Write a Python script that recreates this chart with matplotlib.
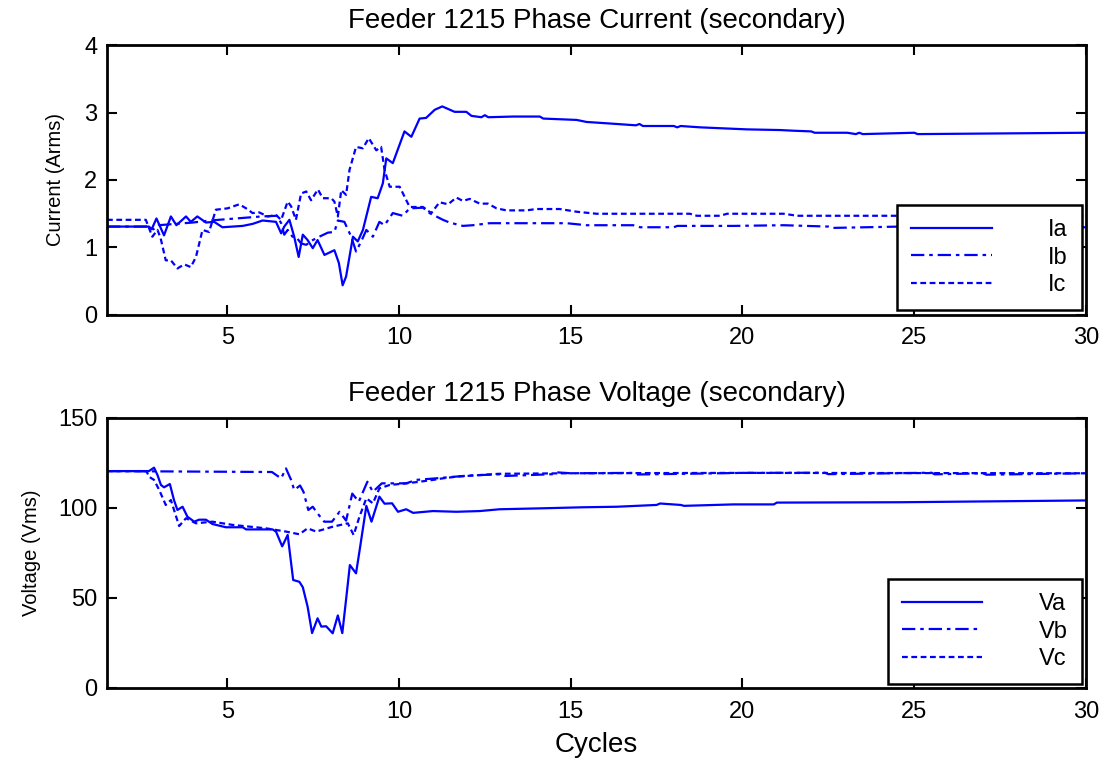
import matplotlib
matplotlib.use("Agg")
import matplotlib.pyplot as plt

plt.rcParams['font.family'] = ['Liberation Sans', 'DejaVu Sans']

# ---------------- data ----------------
# Phase currents (A rms)
ia_t = [1.5, 2.72, 2.80, 2.94, 3.16, 3.36, 3.52, 3.80, 3.94, 4.13, 4.38, 4.62, 4.86, 5.45, 5.74,
        6.03, 6.42, 6.57, 6.66, 6.81, 6.95, 7.08, 7.20, 7.34, 7.49, 7.63, 7.83, 8.12, 8.25, 8.36,
        8.46, 8.66, 8.80, 8.95, 9.19, 9.38, 9.53, 9.63, 9.82, 10.16, 10.36, 10.60, 10.79, 11.04,
        11.26, 11.62, 11.96, 12.11, 12.4, 12.5, 12.6, 13.32, 14.10, 14.20, 15.17, 15.46, 16.05,
        16.9, 17.0, 17.1, 18.0, 18.1, 18.2, 18.77, 20.13, 21.10, 21.49, 22.0, 22.1, 23.05, 23.3,
        23.4, 23.5, 25.0, 25.1, 30.0]
ia_v = [1.31, 1.31, 1.27, 1.43, 1.18, 1.46, 1.33, 1.46, 1.38, 1.46, 1.37, 1.38, 1.30, 1.32, 1.35,
        1.40, 1.38, 1.21, 1.31, 1.41, 1.16, 0.86, 1.19, 1.11, 0.99, 1.11, 0.89, 0.96, 0.77, 0.44,
        0.57, 1.16, 1.09, 1.26, 1.75, 1.73, 1.95, 2.32, 2.25, 2.72, 2.64, 2.91, 2.92, 3.04,
        3.09, 3.01, 3.01, 2.95, 2.93, 2.96, 2.93, 2.94, 2.94, 2.91, 2.89, 2.86, 2.84,
        2.81, 2.83, 2.80, 2.80, 2.78, 2.80, 2.78, 2.75, 2.74, 2.73, 2.72, 2.70, 2.70, 2.68,
        2.70, 2.68, 2.70, 2.68, 2.70]

ib_t = [1.5, 2.72, 2.85, 3.0, 3.5, 4.0, 4.5, 5.0, 5.5, 6.0, 6.45, 6.57, 6.66, 6.76, 6.9, 7.0,
        7.15, 7.30, 7.49, 7.68, 7.93, 8.12, 8.22, 8.41, 8.61, 8.75, 8.90, 9.05, 9.24, 9.43, 9.58,
        9.82, 10.11, 10.31, 10.70, 10.89, 11.28, 11.47, 11.86, 12.15, 12.64, 14.88, 15.46, 16.82,
        17.02, 18.0, 18.1, 19.74, 21.2, 22.5, 22.6, 24.6, 26.0, 26.1, 28.0, 28.1, 30.0]
ib_v = [1.31, 1.31, 1.27, 1.33, 1.35, 1.37, 1.40, 1.42, 1.44, 1.46, 1.47, 1.36, 1.19, 1.26, 1.16,
        1.16, 1.06, 1.04, 1.11, 1.16, 1.22, 1.23, 1.40, 1.38, 1.16, 0.94, 1.09, 1.26, 1.16, 1.38,
        1.33, 1.51, 1.47, 1.58, 1.59, 1.51, 1.41, 1.37, 1.32, 1.33, 1.36, 1.36, 1.33, 1.33,
        1.30, 1.30, 1.32, 1.32, 1.33, 1.31, 1.29, 1.31, 1.30, 1.28, 1.30, 1.28, 1.30]

ic_t = [1.5, 2.63, 2.82, 2.97, 3.06, 3.21, 3.36, 3.55, 3.75, 3.94, 4.09, 4.28, 4.47, 4.67, 5.01,
        5.35, 5.55, 5.74, 5.93, 6.18, 6.42, 6.57, 6.76, 6.86, 7.00, 7.15, 7.30, 7.44, 7.64, 7.78,
        8.03, 8.12, 8.22, 8.32, 8.46, 8.56, 8.75, 8.95, 9.12, 9.34, 9.48, 9.58, 9.73, 10.02,
        10.31, 10.70, 10.94, 11.18, 11.43, 11.67, 11.86, 12.06, 12.35, 12.59, 12.84, 13.13,
        13.71, 14.00, 14.68, 15.17, 15.75, 18.47, 18.67, 19.35, 19.55, 21.20, 21.59, 30.0]
ic_v = [1.41, 1.41, 1.16, 1.26, 1.14, 0.81, 0.81, 0.69, 0.75, 0.71, 0.86, 1.26, 1.23, 1.56, 1.58,
        1.64, 1.58, 1.51, 1.52, 1.46, 1.48, 1.41, 1.68, 1.61, 1.41, 1.80, 1.83, 1.70, 1.86, 1.73,
        1.73, 1.68, 1.46, 1.85, 1.78, 2.15, 2.49, 2.47, 2.62, 2.44, 2.49, 2.15, 1.90, 1.90,
        1.60, 1.60, 1.51, 1.67, 1.64, 1.74, 1.69, 1.72, 1.65, 1.65, 1.58, 1.55,
        1.55, 1.57, 1.57, 1.53, 1.50, 1.50, 1.47, 1.47, 1.50, 1.50, 1.47, 1.47]

# Phase voltages (V rms)
va_t = [1.5, 2.72, 2.87, 2.97, 3.07, 3.16, 3.33, 3.45, 3.55, 3.70, 3.84, 4.04, 4.18, 4.38, 4.57,
        4.96, 5.45, 5.55, 6.32, 6.42, 6.60, 6.76, 6.92, 7.10, 7.20, 7.34, 7.47, 7.63, 7.74, 7.88,
        8.07, 8.22, 8.35, 8.48, 8.57, 8.75, 8.87, 9.05, 9.20, 9.43, 9.58, 9.80, 9.97, 10.21,
        10.41, 10.99, 11.67, 12.35, 12.93, 14.1, 15.36, 16.34, 17.5, 17.6, 18.2, 18.3, 19.74,
        20.91, 21.0, 24.6, 30.0]
va_v = [120.5, 120.5, 122.4, 118.3, 112.8, 111.5, 113.3, 104.4, 98.9, 100.7, 95.2, 92.4, 93.5,
        93.5, 91.1, 89.3, 89.3, 88.1, 88.1, 86.9, 78.7, 85.0, 60.0, 59.0, 56.0, 45.2, 30.5,
        38.7, 34.1, 34.3, 30.4, 40.3, 30.5, 52.6, 68.3, 63.7, 78.5, 101.2, 92.4, 106.3, 102.4,
        102.6, 97.9, 99.3, 97.3, 98.3, 97.9, 98.3, 99.3, 99.8, 100.4, 100.7, 101.7, 102.5,
        101.7, 101.2, 102.0, 102.0, 103.0, 103.2, 104.2]

vb_t = [1.5, 6.3, 6.45, 6.57, 6.71, 6.86, 6.95, 7.12, 7.22, 7.36, 7.49, 7.63, 7.82, 8.05, 8.27,
        8.46, 8.64, 8.83, 9.08, 9.24, 9.50, 9.82, 10.21, 10.50, 11.09, 12.0, 13.0, 13.1, 14.5,
        14.6, 15.0, 16.8, 16.9, 20.0, 22.4, 22.5, 25.5, 25.6, 27.0, 27.1, 30.0]
vb_v = [120.5, 120.0, 118.0, 116.5, 122.0, 115.6, 110.0, 112.5, 109.0, 98.9, 100.7, 97.0, 92.4,
        92.4, 97.9, 93.0, 108.0, 103.5, 114.6, 109.0, 113.7, 113.7, 113.7, 115.6, 116.5, 118.0,
        118.8, 117.8, 118.8, 119.8, 119.3, 119.5, 118.6, 119.5, 119.6, 118.8, 119.6, 118.7,
        119.3, 118.5, 119.3]

vc_t = [1.5, 2.65, 2.72, 2.87, 3.02, 3.21, 3.36, 3.60, 3.80, 4.09, 4.57, 5.16, 6.13, 6.71,
        7.10, 7.34, 7.59, 8.07, 8.51, 8.68, 8.85, 9.05, 9.24, 9.43, 9.73, 10.21, 10.60, 10.99,
        11.28, 11.67, 12.9, 15.0, 20.0, 30.0]
vc_v = [120.5, 120.5, 117.4, 115.6, 110.0, 101.7, 104.4, 90.0, 94.3, 91.5, 92.4, 90.6, 88.7,
        86.9, 85.4, 88.7, 86.9, 89.6, 91.5, 85.0, 95.2, 105.4, 102.6, 110.9, 112.8, 113.7,
        114.6, 115.6, 116.5, 117.4, 119.0, 119.3, 119.5, 119.3]

x_ticks = [5, 10, 15, 20, 25, 30]
i_ticks = [0, 1, 2, 3, 4]
v_ticks = [0, 50, 100, 150]

# ---------------- drawing ----------------
BLUE = (0, 0, 1)
LW = 1.6
DASHDOT = (0, (6, 2.2, 1.6, 2.2))
DOTTED = (0, (2.6, 1.6))

fig = plt.figure(figsize=(11.09, 7.61), dpi=100)
ax1 = fig.add_axes([107 / 1109, 1 - 315 / 761, 979 / 1109, 270 / 761])
ax2 = fig.add_axes([107 / 1109, 1 - 688 / 761, 979 / 1109, 270 / 761])

ax1.plot(ia_t, ia_v, color=BLUE, lw=LW, ls='-', label='Ia')
ax1.plot(ib_t, ib_v, color=BLUE, lw=LW, ls=DASHDOT, label='Ib')
ax1.plot(ic_t, ic_v, color=BLUE, lw=LW, ls=DOTTED, label='Ic')

ax2.plot(va_t, va_v, color=BLUE, lw=LW, ls='-', label='Va')
ax2.plot(vb_t, vb_v, color=BLUE, lw=LW, ls=DASHDOT, label='Vb')
ax2.plot(vc_t, vc_v, color=BLUE, lw=LW, ls=DOTTED, label='Vc')

TICK_FS = 17
TITLE_FS = 20
for ax, yt, ylim in ((ax1, i_ticks, (0, 4)), (ax2, v_ticks, (0, 150))):
    ax.set_xlim(1.5, 30)
    ax.set_ylim(*ylim)
    ax.set_xticks(x_ticks)
    ax.set_yticks(yt)
    ax.tick_params(direction='in', length=7, width=1.5, top=True, right=True,
                   labelsize=TICK_FS)
    ax.tick_params(axis='x', pad=9)
    ax.tick_params(axis='y', pad=7)
    for s in ax.spines.values():
        s.set_linewidth(2.0)

ax1.set_title('Feeder 1215 Phase Current (secondary)', fontsize=TITLE_FS, pad=12)
ax2.set_title('Feeder 1215 Phase Voltage (secondary)', fontsize=TITLE_FS, pad=12)
ax1.set_ylabel('Current (Arms)', fontsize=14.5, labelpad=14)
ax2.set_ylabel('Voltage (Vms)', fontsize=14.5, labelpad=12)
ax2.set_xlabel('Cycles', fontsize=TITLE_FS, labelpad=7)

for ax, anchor in ((ax1, (0.996, 0.0185)), (ax2, (0.996, 0.015))):
    leg = ax.legend(loc='lower right', bbox_to_anchor=anchor, borderaxespad=0,
                    fontsize=17, handlelength=3.4, handletextpad=2.4,
                    labelspacing=0.22, borderpad=0.6, fancybox=False,
                    framealpha=1, edgecolor='black')
    leg.get_frame().set_linewidth(1.8)

fig.savefig('out.png', dpi=100)
